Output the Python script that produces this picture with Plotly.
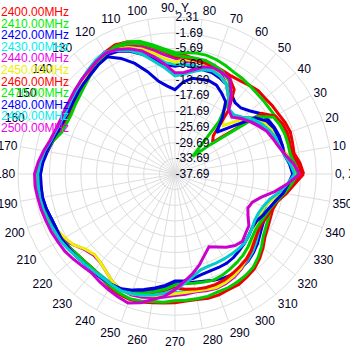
import plotly.graph_objects as go

angles = list(range(0, 360, 5))

freqs = ["2400.00MHz", "2410.00MHz", "2420.00MHz", "2430.00MHz", "2440.00MHz", "2450.00MHz",
         "2460.00MHz", "2470.00MHz", "2480.00MHz", "2490.00MHz", "2500.00MHz"]

line_colors = ["#ee0000", "#00cc00", "#0000dd", "#00cccc", "#cc00cc", "#eeee00",
               "#ee0000", "#00cc00", "#0000dd", "#00cccc", "#cc00cc"]
text_colors = ["#ff0000", "#00ee00", "#0000ff", "#00eeee", "#ee00ee", "#eeee00",
               "#ff0000", "#00ee00", "#0000ff", "#00eeee", "#ee00ee"]

g2400 = [-4.9,-5.7,-6.9,-6.7,-6.4,-6.7,-7.2,-7.4,
         -7.7,-7.7,-8.2,-8.7,-8.9,-8.7,-8.4,-8.2,-7.9,-7.4,
         -7.2,-5.9,-4.4,-2.9,-1.9,-1.4,
         -1.9,-2.9,-3.9,-4.9,-5.7,-6.2,-6.7,-6.7,-6.4,
         -5.4,-4.4,-3.4,-2.9,-2.9,-2.9,-3.2,-3.4,-3.9,-4.4,
         -4.9,-5.4,-5.7,-5.7,-5.2,-4.4,-3.9,-3.7,-3.9,-4.4,-4.7,
         -4.9,-5.2,-5.2,-4.9,-4.9,-5.2,-5.2,-5.7,-6.2,-7.2,-8.4,
         -9.7,-10.4,-10.9,-11.2,-10.7,-9.2,-7.2]
g2410 = [-6.2,-6.9,-7.7,-7.4,-7.4,-7.7,-8.2,-8.4,
         -8.4,-8.4,-8.2,-7.9,-7.7,-7.2,-6.7,-6.4,-6.4,-6.7,
         -6.7,-5.7,-4.2,-2.7,-1.9,-1.7,
         -2.2,-3.2,-4.2,-5.2,-5.9,-6.4,-6.9,-6.9,-6.7,
         -5.4,-4.4,-3.4,-2.9,-2.9,-2.9,-3.2,-3.4,-3.9,-4.4,
         -4.9,-5.4,-5.7,-5.7,-5.2,-4.7,-4.2,-3.9,-4.2,-4.7,-4.9,
         -5.4,-5.4,-5.4,-5.4,-5.7,-5.7,-5.9,-6.2,-6.7,-7.7,-8.9,
         -10.2,-10.9,-11.4,-11.7,-11.2,-9.7,-7.9]
g2420 = [-7.4,-8.2,-9.2,-9.4,-9.4,-9.7,-10.2,-10.9,
         -12.7,-13.9,-13.9,-12.7,-11.4,-10.7,-10.2,-10.2,-10.2,-9.7,
         -10.2,-9.7,-8.2,-6.2,-4.4,-3.2,
         -2.7,-3.4,-4.2,-4.9,-5.4,-5.9,-6.2,-6.2,-5.9,
         -5.4,-4.7,-3.9,-3.4,-3.4,-3.4,-3.7,-4.2,-4.4,-4.7,
         -4.9,-5.2,-5.4,-5.4,-5.4,-5.2,-5.2,-5.7,-6.7,-7.7,-8.7,
         -9.7,-9.7,-9.7,-9.4,-8.9,-8.4,-8.2,-8.4,-8.7,-9.4,-10.2,
         -11.2,-11.9,-12.2,-11.9,-10.9,-9.7,-8.4]
g2430 = [-6.9,-7.9,-9.2,-9.9,-10.2,-10.7,-11.7,-12.7,
         -15.2,-16.4,-16.2,-13.9,-11.4,-10.2,-9.7,-9.7,-9.7,-9.7,
         -9.7,-9.2,-7.2,-5.2,-3.7,-2.7,
         -1.9,-2.4,-3.2,-3.9,-4.7,-5.2,-5.7,-5.7,-5.4,
         -4.9,-3.9,-3.2,-2.7,-2.7,-2.7,-2.9,-3.4,-3.9,-4.2,
         -4.7,-5.2,-5.4,-5.7,-5.7,-5.4,-5.2,-5.2,-5.7,-6.2,-6.9,
         -7.4,-7.7,-7.7,-7.7,-7.4,-7.4,-7.7,-8.2,-8.9,-9.7,-10.7,
         -11.7,-12.7,-13.2,-13.2,-12.7,-10.7,-8.7]
g2440 = [-6.2,-7.4,-8.9,-10.2,-10.7,-11.4,-12.7,-13.9,
         -15.7,-16.7,-16.4,-13.9,-11.4,-9.7,-8.7,-8.4,-8.7,-8.9,
         -8.2,-7.2,-5.7,-4.2,-2.9,-2.2,
         -1.9,-2.7,-3.4,-4.2,-4.9,-5.4,-5.7,-5.7,-5.4,
         -4.9,-3.9,-2.9,-2.4,-2.4,-2.4,-2.9,-3.4,-3.9,-4.4,
         -6.2,-7.7,-8.4,-8.2,-7.2,-5.9,-5.2,-4.9,-5.2,-5.7,-6.2,
         -6.7,-6.9,-7.2,-6.9,-6.7,-6.9,-7.4,-8.2,-9.2,-10.2,-11.2,
         -12.2,-13.2,-13.7,-13.4,-12.4,-10.4,-8.2]
g2450 = [-6.7,-7.7,-8.9,-9.7,-9.9,-10.7,-11.4,-12.7,
         -16.4,-20.2,-18.9,-13.9,-11.4,-10.2,-9.2,-8.7,-8.4,-8.4,
         -9.2,-8.2,-6.4,-4.7,-3.4,-2.4,
         -2.2,-2.9,-3.7,-4.4,-5.2,-5.7,-5.9,-5.9,-5.7,
         -5.2,-4.2,-3.2,-2.7,-2.7,-2.9,-3.2,-3.7,-4.4,-5.2,
         -6.2,-7.9,-8.7,-8.2,-7.2,-5.9,-5.2,-5.2,-5.7,-6.2,-6.7,
         -7.2,-7.4,-7.4,-7.2,-6.9,-7.2,-7.7,-8.4,-9.4,-10.4,-11.7,
         -12.7,-13.4,-13.7,-13.4,-12.2,-10.2,-8.4]
g2460 = [-5.4,-6.2,-7.4,-7.4,-7.2,-7.4,-8.2,-10.7,
         -25.2,-23.9,-16.4,-11.4,-9.7,-8.9,-8.7,-8.4,-8.2,-7.9,
         -7.7,-6.4,-4.9,-3.4,-2.4,-1.9,
         -2.2,-3.2,-4.2,-5.2,-5.9,-6.4,-6.9,-6.9,-6.7,
         -5.4,-4.4,-3.4,-2.9,-2.9,-2.9,-3.2,-3.4,-3.9,-4.4,
         -4.9,-5.4,-5.7,-5.7,-5.4,-5.2,-5.2,-5.4,-6.2,-6.9,-7.7,
         -8.7,-8.2,-7.9,-7.7,-7.7,-7.9,-8.4,-8.9,-9.4,-10.2,-11.2,
         -11.9,-12.2,-11.9,-11.4,-10.7,-8.9,-7.2]
g2470 = [-6.4,-7.2,-7.9,-7.9,-7.9,-8.2,-8.7,-12.2,
         -26.4,-31.4,-20.2,-12.7,-10.2,-8.9,-8.2,-7.7,-7.7,-7.7,
         -7.4,-6.2,-4.7,-3.2,-2.4,-1.9,
         -2.4,-3.4,-4.4,-5.4,-6.2,-6.7,-7.2,-7.2,-6.9,
         -5.4,-4.4,-3.4,-2.9,-2.9,-2.9,-3.2,-3.4,-3.9,-4.4,
         -4.9,-5.4,-5.7,-5.7,-5.4,-5.2,-5.2,-5.4,-6.2,-7.2,-8.2,
         -9.4,-9.7,-9.4,-9.2,-8.9,-9.2,-9.7,-10.2,-10.7,-11.4,-12.2,
         -12.7,-12.7,-12.4,-11.9,-10.9,-9.4,-7.9]
g2480 = [-7.7,-8.4,-9.4,-9.4,-9.7,-9.9,-10.7,-12.7,
         -18.9,-22.7,-18.9,-15.2,-13.9,-12.7,-12.4,-12.7,-12.9,-14.2,
         -16.2,-15.2,-13.7,-10.7,-7.7,-5.2,
         -3.2,-3.7,-4.4,-4.9,-5.4,-5.9,-6.2,-6.2,-5.9,
         -5.2,-4.4,-3.7,-3.4,-3.4,-3.4,-3.7,-4.2,-4.4,-4.4,
         -4.7,-4.9,-5.2,-5.2,-5.2,-5.2,-5.4,-6.2,-7.2,-8.2,-9.2,
         -10.4,-10.4,-10.7,-11.2,-11.4,-11.4,-11.4,-11.7,-12.2,-12.7,-13.2,
         -13.7,-13.7,-12.9,-12.2,-11.2,-9.7,-8.7]
g2490 = [-7.2,-8.2,-9.4,-10.2,-10.4,-11.2,-12.2,-13.4,
         -15.7,-16.7,-16.2,-13.9,-11.4,-10.2,-9.7,-10.2,-11.2,-12.2,
         -12.7,-10.7,-8.7,-6.2,-4.2,-2.9,
         -1.9,-2.4,-3.2,-3.9,-4.7,-5.2,-5.7,-5.7,-5.4,
         -4.9,-3.9,-3.2,-2.7,-2.7,-2.7,-2.9,-3.2,-3.7,-3.9,
         -4.4,-4.9,-5.2,-5.4,-5.4,-5.2,-4.9,-5.2,-5.7,-6.4,-7.2,
         -8.2,-9.7,-11.2,-12.4,-12.7,-12.7,-12.7,-12.7,-12.7,-12.7,-13.2,
         -13.7,-14.2,-14.2,-13.7,-12.7,-10.7,-8.9]
g2500 = [-5.9,-7.4,-9.2,-10.4,-11.2,-11.9,-13.2,-14.4,
         -15.7,-17.2,-16.4,-12.7,-9.7,-9.2,-8.9,-9.4,-10.7,-11.7,
         -11.9,-9.7,-7.4,-5.2,-3.7,-2.7,
         -2.2,-2.7,-3.4,-3.9,-4.4,-4.9,-5.2,-5.4,-5.2,
         -4.7,-3.7,-2.7,-1.9,-1.9,-2.2,-2.4,-2.7,-2.9,-3.2,
         -3.4,-3.9,-4.4,-4.7,-4.2,-3.7,-3.2,-2.7,-3.7,-5.2,-6.4,
         -8.2,-10.2,-11.9,-13.7,-15.7,-17.2,-16.2,-14.9,-13.9,-13.4,-14.2,
         -14.7,-16.2,-17.2,-16.7,-14.9,-11.9,-8.9]

series = [g2400, g2410, g2420, g2430, g2440, g2450, g2460, g2470, g2480, g2490, g2500]

radial_ticks = [-37.69, -33.69, -29.69, -25.69, -21.69, -17.69, -13.69, -9.69, -5.69, -1.69, 2.31]
angle_ticks = list(range(0, 360, 10))
angle_labels = ["0, X" if a == 0 else ("90, Y" if a == 90 else str(a)) for a in angle_ticks]

fig = go.Figure()
for name, vals, col in zip(freqs, series, line_colors):
    fig.add_trace(go.Scatterpolar(
        r=vals + [vals[0]], theta=angles + [360], mode="lines", name=name,
        line=dict(color=col, width=3), showlegend=False))

for i, (name, col) in enumerate(zip(freqs, text_colors)):
    fig.add_annotation(
        x=0.0, y=1 - (12 + 11.6 * i) / 350, xref="paper", yref="paper",
        xanchor="left", yanchor="middle", text=name, showarrow=False,
        font=dict(family="Liberation Sans", size=12, color=col), borderpad=0)

fig.update_layout(
    width=350, height=350, margin=dict(l=0, r=0, t=0, b=0),
    paper_bgcolor="white", plot_bgcolor="white",
    font=dict(family="Liberation Sans", size=12, color="#000022"),
    polar=dict(
        domain=dict(x=[18 / 350, 332 / 350], y=[1 - 331 / 350, 1 - 17 / 350]),
        bgcolor="white",
        angularaxis=dict(
            direction="counterclockwise", rotation=0,
            tickmode="array", tickvals=angle_ticks, ticktext=angle_labels,
            showgrid=True, gridcolor="#dddddd", gridwidth=1,
            showline=True, linecolor="#dddddd", linewidth=1,
            ticks="", tickfont=dict(size=12, color="#000022")),
        radialaxis=dict(
            range=[-37.69, 2.32], angle=90, tickangle=90,
            tickmode="array", tickvals=radial_ticks,
            ticktext=["%.2f" % v for v in radial_ticks],
            showgrid=True, gridcolor="#dddddd", gridwidth=1,
            showline=False, ticks="",
            tickfont=dict(size=12, color="#000022")),
    ),
)

fig.write_html("out.html")
